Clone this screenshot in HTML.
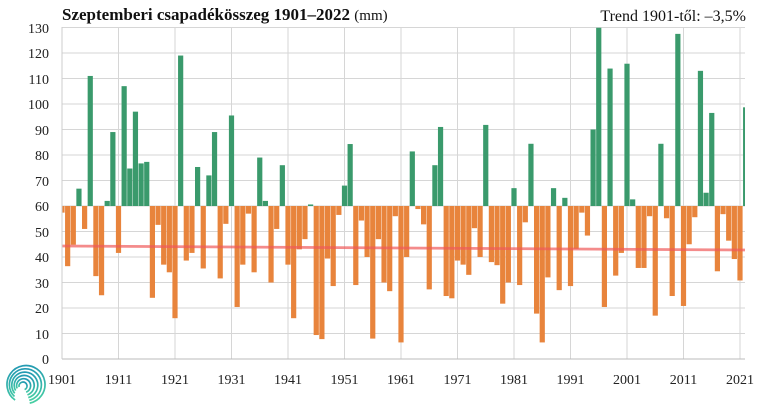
<!DOCTYPE html>
<html><head><meta charset="utf-8"><style>
html,body{margin:0;padding:0;background:#fff;}
svg{display:block;font-family:"Liberation Serif",serif;}
</style></head><body>
<svg id="s" width="768" height="412" viewBox="0 0 768 412" xmlns="http://www.w3.org/2000/svg">
<defs><linearGradient id="lg" x1="0" y1="1" x2="1" y2="0"><stop offset="0" stop-color="#1b8fb5"/><stop offset="1" stop-color="#4fd9a0"/></linearGradient></defs>
<rect width="768" height="412" fill="#fff"/>
<g id="grid" stroke="#d6d6d6" stroke-width="1"></g>
<g id="bars"></g>
<line x1="62" y1="246" x2="745" y2="250" stroke="#f05a5a" stroke-opacity="0.7" stroke-width="2.8"/>
<line x1="62" y1="359" x2="745" y2="359" stroke="#bbb" stroke-width="1"/>
<line x1="62" y1="27" x2="62" y2="359" stroke="#ccc" stroke-width="1"/>
<text x="62" y="20" font-size="17" font-weight="bold" fill="#111">Szeptemberi csapadékösszeg 1901–2022 <tspan font-weight="normal" font-size="15">(mm)</tspan></text>
<text x="746" y="21" font-size="16" text-anchor="end" fill="#111">Trend 1901-től: –3,5%</text>
<g font-size="14" fill="#222" text-anchor="end">
<text x="49" y="33">130</text><text x="49" y="58">120</text><text x="49" y="84">110</text><text x="49" y="109">100</text>
<text x="49" y="135">90</text><text x="49" y="160">80</text><text x="49" y="186">70</text><text x="49" y="211">60</text>
<text x="49" y="237">50</text><text x="49" y="262">40</text><text x="49" y="288">30</text><text x="49" y="313">20</text>
<text x="49" y="339">10</text><text x="49" y="364">0</text>
</g>
<g font-size="14" fill="#222" text-anchor="middle" id="xl"></g>
<g id="logo" fill="none" stroke="url(#lg)" stroke-width="1.7"></g>
</svg>
<script>
var v=[57.4,36.4,44.8,66.8,51,111,32.5,25,62,89,41.6,107,74.7,97,76.7,77.3,24,52.6,37,34,16,119,38.6,41.6,75.3,35.5,72,89,31.6,53,
95.5,20.4,37,57,34,79,62,30,51,76,37,16,43,47,60.6,9.4,7.8,39.4,28.6,56.5,68,84.3,29,54.3,40,8,47,30,26.6,56,
6.5,40,81.4,58.8,52.8,27.3,76,91,24.7,23.8,38.6,37,33,51.3,40,91.8,38,36.8,21.7,30,67,29,53.6,84.4,17.8,6.5,32,67,27,63.2,
28.6,43.2,57.4,48.4,90,129.9,20.4,113.9,32.7,41.6,115.8,62.6,35.7,35.7,56,17,84.4,55.2,24.7,127.5,20.8,45,55.6,113,65.2,96.5,34.4,56.8,46.4,39.2,30.8,98.7];
var NS="http://www.w3.org/2000/svg";
function y(val){return 359-val*2.55;}
function X(n){return 62+n*5.65;}
var g=document.getElementById('grid'),b=document.getElementById('bars'),xl=document.getElementById('xl'),lg=document.getElementById('logo');
function el(t,a,p){var e=document.createElementNS(NS,t);for(var k in a)e.setAttribute(k,a[k]);p.appendChild(e);return e;}
for(var i=1;i<=13;i++){el('line',{x1:62,x2:745,y1:y(i*10),y2:y(i*10)},g);}
for(var n=0;n<=120;n+=10){el('line',{x1:X(n),x2:X(n),y1:27,y2:359},g);var t=el('text',{x:X(n),y:384},xl);t.textContent=1901+n;}
var y60=y(60);
for(var i=0;i<v.length;i++){
  var cx=X(i),x0=cx-2.6,w=5.2;
  if(x0<62){w-=62-x0;x0=62;}
  if(x0+w>745)w=745-x0;
  var yy=y(v[i]);
  if(v[i]>=60)el('rect',{x:x0,y:yy,width:w,height:y60-yy,fill:'#3a9a6c'},b);
  else el('rect',{x:x0,y:y60,width:w,height:yy-y60,fill:'#e8843c'},b);
}
var rs=[4,7,10,13,16,19];
for(var k=0;k<rs.length;k++){
  var r=rs[k],c=2*Math.PI*r,f=0.72+k*0.03;
  el('circle',{cx:23+k*0.6,cy:386-k*0.3,r:r,'stroke-dasharray':(c*f)+' '+(c*(1-f)),transform:'rotate('+(165-k*8)+' '+(23+k*0.6)+' '+(386-k*0.3)+')'},lg);
}
</script>
</body></html>
